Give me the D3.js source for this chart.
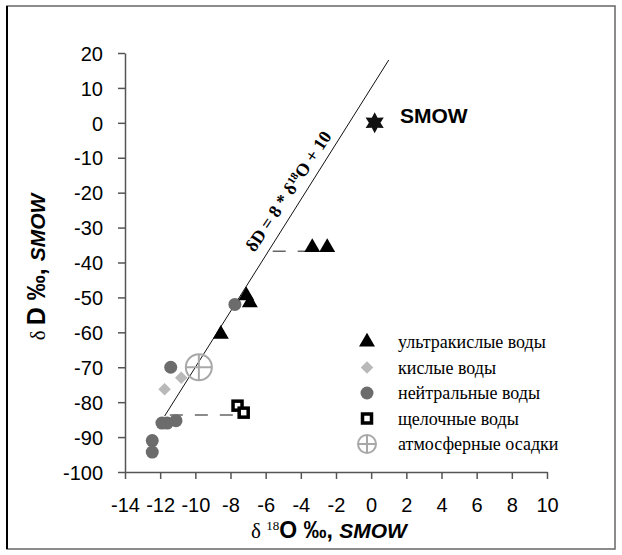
<!DOCTYPE html>
<html>
<head>
<meta charset="utf-8">
<script src="https://cdn.jsdelivr.net/npm/d3@7"></script>
<style>
  body { margin: 0; background: #fff; }
  svg { display: block; }
  .tick text { font-family: "Liberation Sans", Arial, sans-serif; font-size: 20px; fill: #000; }
</style>
</head>
<body>
<div id="chart-area"></div>
<script>
// values
var ultraX = [-3.35, -2.5, -7.1, -6.9, -8.55];
var ultraY = [-35.7, -35.7, -49.5, -51.5, -60.5];
var acidX = [-11.75, -10.8];
var acidY = [-76.3, -73];
var neutralX = [-11.4, -11.9, -11.6, -11.1, -12.45, -12.45, -7.75];
var neutralY = [-70, -86, -86, -85.3, -91, -94.3, -52];
var alkX = [-7.6, -7.25];
var alkY = [-81, -83];
var rainX = [-9.8];
var rainY = [-70];
var smowX = [0.2];
var smowY = [0];
var gmwlX = [-11.75, 1];
var gmwlY = [-84, 18];
var dashUpX = [-5.6, -3.3];
var dashUpY = [-36.8, -36.8];
var dashLowX = [-11.45, -7.7];
var dashLowY = [-83.7, -83.7];

var xTicks = [-14, -12, -10, -8, -6, -4, -2, 0, 2, 4, 6, 8, 10];
var yTicks = [-100, -90, -80, -70, -60, -50, -40, -30, -20, -10, 0, 10, 20];
var legendLabels = ["ультракислые воды", "кислые воды", "нейтральные воды", "щелочные воды", "атмосферные осадки"];

var W = 622, H = 555;
var svg = d3.select("#chart-area").append("svg").attr("width", W).attr("height", H);

// frame
svg.append("rect").attr("x", 7).attr("y", 6).attr("width", 608).attr("height", 543)
	.attr("fill", "none").attr("stroke", "#666").attr("stroke-width", 1.5);
svg.append("line").attr("x1", 7).attr("x2", 7).attr("y1", 6).attr("y2", 549).attr("stroke", "#000").attr("stroke-width", 2);

var x = d3.scaleLinear().domain([-14, 10]).range([125, 547]);
var y = d3.scaleLinear().domain([-100, 20]).range([472, 53]);

var xAxis = d3.axisBottom(x).tickValues(xTicks).tickFormat(function(d) { return String(d); })
	.tickSize(7).tickSizeOuter(0).tickPadding(19);
var yAxis = d3.axisLeft(y).tickValues(yTicks).tickFormat(function(d) { return String(d); })
	.tickSize(7).tickSizeOuter(0).tickPadding(15);

var xg = svg.append("g").attr("transform", "translate(0,472)").call(xAxis);
var yg = svg.append("g").attr("transform", "translate(125,0)").call(yAxis);
[xg, yg].forEach(function(g) {
	g.select(".domain").attr("stroke", "#555").attr("stroke-width", 1.5);
	g.selectAll(".tick line").attr("stroke", "#555").attr("stroke-width", 1.5);
});
yg.selectAll(".tick text").attr("dy", "0.36em");

// meteoric water line
svg.append("line")
	.attr("x1", x(gmwlX[0])).attr("y1", y(gmwlY[0]))
	.attr("x2", x(gmwlX[1])).attr("y2", y(gmwlY[1]))
	.attr("stroke", "#111").attr("stroke-width", 1);

var ang = Math.atan2(y(gmwlY[0]) - y(gmwlY[1]), x(gmwlX[1]) - x(gmwlX[0])) * 180 / Math.PI;
var lx = x(-4.0), ly = y(8 * -4.0 + 10);
var lbl = svg.append("text")
	.attr("transform", "translate(" + lx + "," + ly + ") rotate(" + (-ang + 1.5) + ")")
	.attr("y", -9).attr("text-anchor", "middle")
	.attr("font-family", "'Liberation Serif', 'Times New Roman', serif")
	.attr("font-weight", "bold").attr("font-size", "18px");
lbl.append("tspan").text("δD = 8 * δ");
lbl.append("tspan").attr("font-size", "11px").attr("dy", -6).text("18");
lbl.append("tspan").attr("dy", 6).text("O + 10");

// dashed guides
[[dashUpX, dashUpY], [dashLowX, dashLowY]].forEach(function(d) {
	svg.append("line")
		.attr("x1", x(d[0][0])).attr("y1", y(d[1][0]))
		.attr("x2", x(d[0][1])).attr("y2", y(d[1][1]))
		.attr("stroke", "#666").attr("stroke-width", 1.5).attr("stroke-dasharray", "13,12");
});

// marker drawers
function triangle(g) {
	g.append("path").attr("d", d3.symbol().type(d3.symbolTriangle).size(110)).attr("fill", "#000");
}
function diamond(g) {
	g.append("path").attr("d", d3.symbol().type(d3.symbolSquare).size(78)).attr("transform", "rotate(45)").attr("fill", "#b9b9b9");
}
function circle(g) {
	g.append("circle").attr("r", 6.5).attr("fill", "#6c6c6c");
}
function square(g) {
	g.append("rect").attr("x", -4.5).attr("y", -4.5).attr("width", 9).attr("height", 9)
		.attr("fill", "#fff").attr("stroke", "#000").attr("stroke-width", 3.5);
}
function crossCircle(r) {
	return function(g) {
		g.append("circle").attr("r", r).attr("fill", "none").attr("stroke", "#a8a8a8").attr("stroke-width", 2);
		g.append("line").attr("x1", -r).attr("x2", r).attr("stroke", "#a8a8a8").attr("stroke-width", 2);
		g.append("line").attr("y1", -r).attr("y2", r).attr("stroke", "#a8a8a8").attr("stroke-width", 2);
	};
}
function star(g) {
	var pts = d3.range(12).map(function(k) {
		var a = k * Math.PI / 6 - Math.PI / 2, r = k % 2 ? 5.8 : 10.5;
		return [r * Math.cos(a), r * Math.sin(a)];
	});
	g.append("path").attr("d", d3.line()(pts) + "Z").attr("fill", "#111");
}

function plot(xs, ys, draw) {
	xs.forEach(function(v, i) {
		var g = svg.append("g").attr("transform", "translate(" + x(v) + "," + y(ys[i]) + ")");
		draw(g);
	});
}

plot(rainX, rainY, crossCircle(13));
plot(neutralX, neutralY, circle);
plot(acidX, acidY, diamond);
plot(alkX, alkY, square);
plot(ultraX, ultraY, triangle);
plot(smowX, smowY, star);

svg.append("text").attr("x", 400).attr("y", 123)
	.attr("font-family", "'Liberation Sans', Arial, sans-serif").attr("font-weight", "bold").attr("font-size", "21px")
	.text("SMOW");

// legend
var drawers = [triangle, diamond, circle, square, crossCircle(9)];
legendLabels.forEach(function(t, i) {
	var ry = 342 + i * 25.5;
	var g = svg.append("g").attr("transform", "translate(367," + ry + ")");
	drawers[i](g);
	svg.append("text").attr("x", 398).attr("y", ry).attr("dy", "0.35em")
		.attr("font-family", "'Liberation Serif', 'Times New Roman', serif").attr("font-size", "18px")
		.text(t);
});

// axis titles
var xt = svg.append("text").attr("x", 329).attr("y", 538).attr("text-anchor", "middle");
xt.append("tspan").attr("font-family", "'Liberation Serif', serif").attr("font-size", "21px").text("δ ");
xt.append("tspan").attr("font-family", "'Liberation Serif', serif").attr("font-size", "13px").attr("dy", -8).text("18");
xt.append("tspan").attr("dy", 8).attr("font-family", "'Liberation Sans', Arial, sans-serif").attr("font-weight", "bold").attr("font-size", "23px").text("O ‰, ");
xt.append("tspan").attr("font-family", "'Liberation Sans', Arial, sans-serif").attr("font-weight", "bold").attr("font-style", "italic").attr("font-size", "21px").text("SMOW");

var yt = svg.append("text").attr("transform", "translate(45,267) rotate(-90)").attr("text-anchor", "middle");
yt.append("tspan").attr("font-family", "'Liberation Serif', serif").attr("font-size", "21px").text("δ ");
yt.append("tspan").attr("font-family", "'Liberation Sans', Arial, sans-serif").attr("font-weight", "bold").attr("font-size", "25px").text("D ‰, ");
yt.append("tspan").attr("font-family", "'Liberation Sans', Arial, sans-serif").attr("font-weight", "bold").attr("font-style", "italic").attr("font-size", "21px").text("SMOW");
</script>
</body>
</html>
